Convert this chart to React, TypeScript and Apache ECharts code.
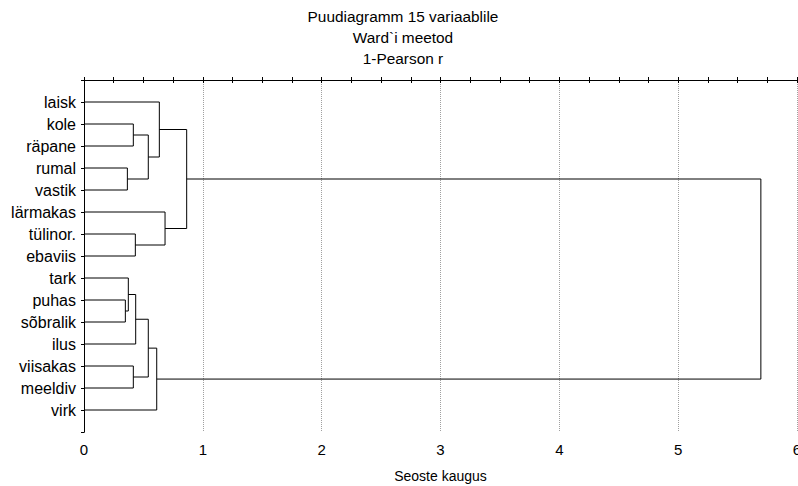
import React, { useEffect, useRef } from "react";
import * as echarts from "echarts";

const titleLines = ["Puudiagramm 15 variaablile", "Ward`i meetod", "1-Pearson r"];
const xAxisName = "Seoste kaugus";
const leaves = [
  "laisk", "kole", "räpane", "rumal", "vastik", "lärmakas", "tülinor.", "ebaviis",
  "tark", "puhas", "sõbralik", "ilus", "viisakas", "meeldiv", "virk",
];
// merges: [child A, child B] (indices: 0..14 leaves, 15.. merged clusters)
const mergeChildren: [number, number][] = [
  [1, 2], [3, 4], [15, 16], [0, 17], [6, 7], [5, 19], [18, 20],
  [9, 10], [8, 22], [11, 23], [12, 13], [24, 25], [14, 26], [21, 27],
];
const mergeHeights = [
  0.415, 0.365, 0.541, 0.634, 0.432, 0.682, 0.864,
  0.348, 0.373, 0.435, 0.415, 0.541, 0.612, 5.696,
];

const FONT = "'Liberation Sans', Arial, sans-serif";

export default function App() {
  const ref = useRef<HTMLDivElement>(null);
  useEffect(() => {
    if (!ref.current) return;
    const chart = echarts.init(ref.current, null, { renderer: "svg" });
    const pos: number[] = leaves.map((_, i) => i + 1);
    const hgt: number[] = leaves.map(() => 0);
    const segs: any[] = [];
    mergeChildren.forEach(([a, b], k) => {
      const h = mergeHeights[k];
      segs.push({
        coords: [
          [hgt[a], pos[a]],
          [h, pos[a]],
          [h, pos[b]],
          [hgt[b], pos[b]],
        ],
      });
      pos.push((pos[a] + pos[b]) / 2);
      hgt.push(h);
    });
    const axisLine = { show: true, lineStyle: { color: "#000", width: 1 } };
    const titleY = [16.5, 37.5, 58.5];
    chart.setOption({
      animation: false,
      backgroundColor: "#fff",
      textStyle: { fontFamily: FONT },
      graphic: titleLines.map((t, i) => ({
        type: "text",
        x: 403,
        y: titleY[i],
        silent: true,
        style: {
          text: t,
          fill: "#000",
          font: `15.4px ${FONT}`,
          align: "center",
          verticalAlign: "middle",
        },
      })),
      grid: { left: 84, right: 1, top: 80, bottom: 54, containLabel: false, outerBoundsMode: "none" },
      xAxis: [
        {
          type: "value", position: "bottom", min: 0, max: 6, interval: 1,
          axisLine,
          axisTick: { show: true, inside: true, length: 3, lineStyle: { color: "#000" } },
          minorTick: { show: true, splitNumber: 4, length: 3, lineStyle: { color: "#000" } },
          axisLabel: { fontSize: 15, color: "#000", margin: 10, fontFamily: FONT },
          splitLine: { show: true, lineStyle: { type: "dotted", color: "#a0a0a0" } },
          name: xAxisName, nameLocation: "middle", nameGap: 37,
          nameTextStyle: { fontSize: 14, color: "#000", fontFamily: FONT },
        },
        {
          type: "value", position: "top", min: 0, max: 6, interval: 1,
          axisLine,
          axisTick: { show: true, inside: true, length: 3, lineStyle: { color: "#000" } },
          minorTick: { show: true, splitNumber: 4, length: 3, lineStyle: { color: "#000" } },
          axisLabel: { show: false },
          splitLine: { show: false },
        },
      ],
      yAxis: [
        {
          type: "value", position: "left", min: 0, max: 16, interval: 1, inverse: true,
          axisLine,
          axisTick: { show: false },
          axisLabel: {
            fontSize: 16, color: "#000", margin: 8, fontFamily: FONT,
            formatter: (v: number) => leaves[v - 1] ?? "",
          },
          splitLine: { show: false },
        },
        {
          type: "value", position: "right", min: 0, max: 16, interval: 1, inverse: true,
          axisLine,
          axisTick: { show: true, inside: true, length: 3, lineStyle: { color: "#000" } },
          axisLabel: { show: false },
          splitLine: { show: false },
        },
      ],
      series: [
        {
          type: "lines",
          coordinateSystem: "cartesian2d",
          xAxisIndex: 0,
          yAxisIndex: 0,
          polyline: true,
          silent: true,
          lineStyle: { color: "#000", width: 1, opacity: 1 },
          data: segs,
        },
      ],
    });
    return () => chart.dispose();
  }, []);
  return (
    <div
      ref={ref}
      style={{ position: "fixed", left: 0, top: 0, width: 798, height: 486 }}
    />
  );
}
